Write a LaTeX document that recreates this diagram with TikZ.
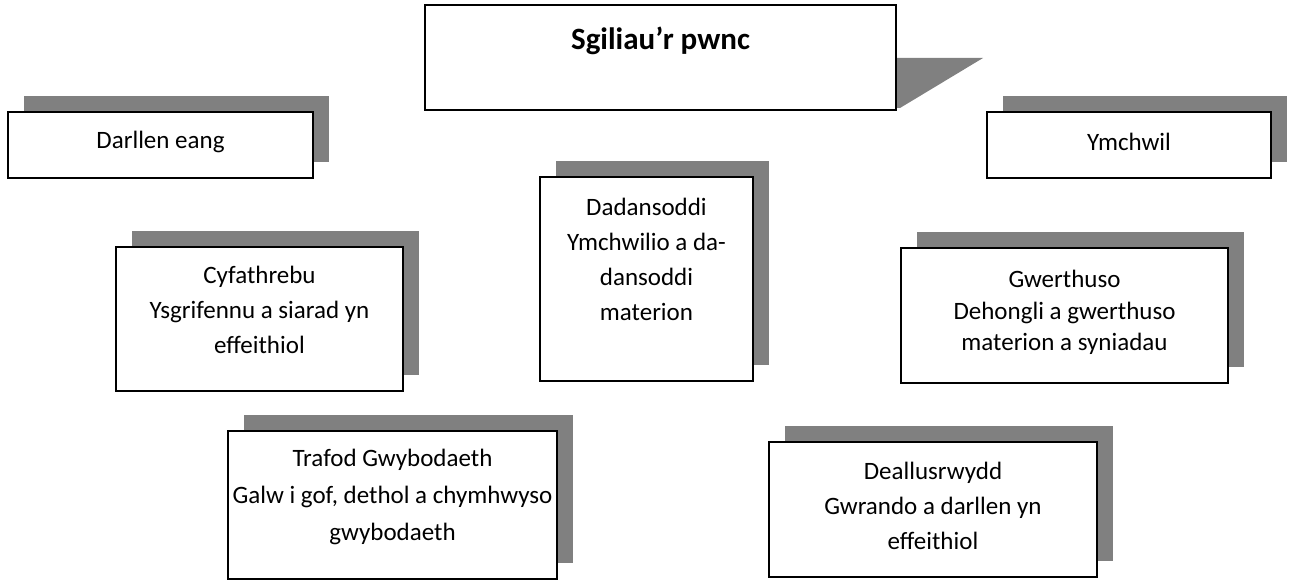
\documentclass[tikz,border=0pt]{standalone}
\usepackage{fontspec}
\setmainfont{Carlito}
\usepackage{tikz}
\usetikzlibrary{calc}
\usetikzlibrary{shadows}
\definecolor{shadowgray}{RGB}{128,128,128}

\begin{document}
\begin{tikzpicture}[x=1pt, y=-1pt,
	card/.style={draw, line width=1.6pt, fill=white, inner sep=0pt, minimum width=#1,
		general shadow={fill=shadowgray, shadow xshift=16pt, shadow yshift=16pt}},
	txt/.style={align=center, inner sep=0pt, font=\fontsize{25}{35}\selectfont}]
	\useasboundingbox (0,0) rectangle (1290,585);
	\fill[shadowgray] (896,58) -- (983,58) -- (900,108) -- (896,108) -- cycle;
	\node (pwnc) [draw, line width=1.6pt, fill=white, minimum width=471pt, minimum height=105pt] at (660.5,57.5) {};
	\node (darllen) [card=305pt, minimum height=66pt] at (160.5,145) {};
	\node (ymchwil) [card=284pt, minimum height=66pt] at (1129,145) {};
	\node (dadan) [card=213pt, minimum height=204pt] at (646.5,279) {};
	\node (cyfath) [card=287pt, minimum height=144pt] at (259.5,319) {};
	\node (gwerth) [card=327pt, minimum height=135pt] at (1064.5,315.5) {};
	\node (trafod) [card=329pt, minimum height=148pt] at (392.5,505) {};
	\node (deall) [card=328pt, minimum height=135pt] at (933,509.5) {};
	\node (pwncLabel) [txt, font=\fontsize{31}{35}\selectfont\bfseries] at ($(pwnc)+(0,-17)$) {Sgiliau’r pwnc};
	\node (darllenLabel) [txt] at ($(darllen)+(0,-3)$) {Darllen eang};
	\node (ymchwilLabel) [txt] at ($(ymchwil)+(0,-3)$) {Ymchwil};
	\node (dadanLabel) [txt] at ($(dadan)+(0,-20)$) {Dadansoddi\\Ymchwilio a da-\\dansoddi\\materion};
	\node (cyfathLabel) [txt] at ($(cyfath)+(0,-9)$) {Cyfathrebu\\Ysgrifennu a siarad yn\\effeithiol};
	\node (gwerthLabel) [txt, font=\fontsize{25}{31.5}\selectfont] at ($(gwerth)+(0,-3)$) {Gwerthuso\\Dehongli a gwerthuso\\materion a syniadau};
	\node (trafodLabel) [txt, font=\fontsize{25}{37}\selectfont] at ($(trafod)+(0,-8)$) {Trafod Gwybodaeth\\Galw i gof, dethol a chymhwyso\\gwybodaeth};
	\node (deallLabel) [txt] at ($(deall)+(0,-4)$) {Deallusrwydd\\Gwrando a darllen yn\\effeithiol};
\end{tikzpicture}
\end{document}
